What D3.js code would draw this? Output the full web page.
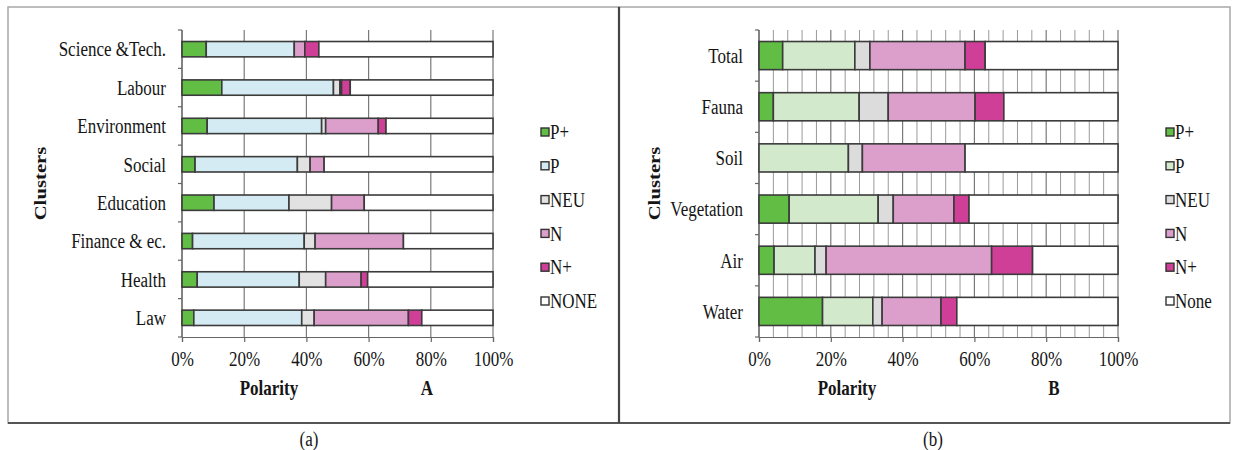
<!DOCTYPE html>
<html>
<head>
<meta charset="utf-8">
<script src="https://cdn.jsdelivr.net/npm/d3@7"></script>
<style>
  html, body { margin: 0; padding: 0; background: #ffffff; }
  svg { display: block; }
  text { font-family: "Liberation Serif", "Times New Roman", Times, serif; fill: #151515; }
</style>
</head>
<body>
<svg id="chart" width="1233" height="450"></svg>
<script>
// Polarity shares (%) per cluster, panel A
const clustersA = ["Science &Tech.", "Labour", "Environment", "Social", "Education", "Finance & ec.", "Health", "Law"];
const pPlusA = [7.8, 12.8, 8.1, 4.2, 10.3, 3.4, 4.9, 3.8];
const pA     = [28.3, 35.9, 36.8, 32.9, 24.1, 35.9, 32.8, 34.7];
const neuA   = [0.0, 2.1, 1.3, 4.1, 13.7, 3.5, 8.5, 4.0];
const nA     = [3.4, 0.5, 16.9, 4.5, 10.5, 28.4, 11.4, 30.3];
const nPlusA = [4.5, 2.8, 2.5, 0.0, 0.0, 0.0, 2.1, 4.3];
const noneA  = [56.0, 45.9, 34.4, 54.3, 41.4, 28.8, 40.3, 22.9];
const legendA = ["P+", "P", "NEU", "N", "N+", "NONE"];

// Polarity shares (%) per environmental cluster, panel B
const clustersB = ["Total", "Fauna", "Soil", "Vegetation", "Air", "Water"];
const pPlusB = [6.6, 4.0, 0.0, 8.4, 4.2, 17.7];
const pB     = [20.1, 23.9, 24.9, 24.8, 11.4, 14.0];
const neuB   = [4.2, 8.1, 3.9, 4.2, 3.1, 2.6];
const nB     = [26.5, 24.2, 28.6, 16.9, 46.1, 16.4];
const nPlusB = [5.6, 8.0, 0.0, 4.2, 11.4, 4.4];
const noneB  = [37.0, 31.8, 42.6, 41.5, 23.8, 44.9];
const legendB = ["P+", "P", "NEU", "N", "N+", "None"];

const xTicks = [0, 20, 40, 60, 80, 100];
const keys = ["pplus", "p", "neu", "n", "nplus", "none"];
const TALL = 1.22; // vertical stretch of the lettering

const svg = d3.select("#chart");

// stretch each text vertically about its own anchor point
function stretch(sel) {
  sel.each(function () {
    const t = d3.select(this);
    const x = +t.attr("x") || 0, y = +t.attr("y") || 0;
    t.attr("transform", `translate(${x},${y}) scale(1,${TALL}) translate(${-x},${-y})`);
  });
}

// panel frames
svg.append("rect").attr("x", 8).attr("y", 7).attr("width", 611).attr("height", 416)
  .attr("fill", "none").attr("stroke", "#a8a8a8").attr("stroke-width", 1.5);
svg.append("rect").attr("x", 619).attr("y", 7).attr("width", 611).attr("height", 416)
  .attr("fill", "none").attr("stroke", "#a8a8a8").attr("stroke-width", 1.5);
svg.append("line").attr("x1", 8).attr("x2", 1230).attr("y1", 423).attr("y2", 423)
  .attr("stroke", "#555").attr("stroke-width", 2);
svg.append("line").attr("x1", 619).attr("x2", 619).attr("y1", 7).attr("y2", 423)
  .attr("stroke", "#444").attr("stroke-width", 2.2);

function drawPanel(opt) {
  const g = svg.append("g");
  const rows = opt.categories.map((c, i) => ({
    cat: c,
    pplus: opt.series[0][i], p: opt.series[1][i], neu: opt.series[2][i],
    n: opt.series[3][i], nplus: opt.series[4][i], none: opt.series[5][i]
  }));

  const x = d3.scaleLinear().domain([0, 100]).range([opt.x0, opt.x1]);
  const y = d3.scaleBand().domain(opt.categories).range([opt.y0, opt.y1])
    .paddingInner(opt.pad).paddingOuter(opt.pad / 2);

  // minor gridlines
  if (opt.minor) {
    g.append("g").selectAll("line").data(d3.range(0, 101, 4).filter(v => v % 20 !== 0))
      .join("line")
      .attr("x1", d => x(d)).attr("x2", d => x(d))
      .attr("y1", opt.y0).attr("y2", opt.y1)
      .attr("stroke", "#9a9a9a").attr("stroke-width", 1);
  }
  // major gridlines
  g.append("g").selectAll("line").data(xTicks)
    .join("line")
    .attr("x1", d => x(d)).attr("x2", d => x(d))
    .attr("y1", opt.y0).attr("y2", opt.y1)
    .attr("stroke", "#7a7a7a").attr("stroke-width", 1.2);

  // y axis line with ticks at band boundaries
  g.append("line").attr("x1", opt.x0).attr("x2", opt.x0)
    .attr("y1", opt.y0).attr("y2", opt.y1).attr("stroke", "#666").attr("stroke-width", 1.2);
  const step = (opt.y1 - opt.y0) / opt.categories.length;
  g.append("g").selectAll("line").data(d3.range(opt.categories.length + 1))
    .join("line")
    .attr("x1", opt.x0 - 4).attr("x2", opt.x0)
    .attr("y1", d => opt.y0 + d * step).attr("y2", d => opt.y0 + d * step)
    .attr("stroke", "#666").attr("stroke-width", 1.2);

  // x axis
  const xAxis = d3.axisBottom(x).tickValues(xTicks).tickFormat(d => d + "%")
    .tickSize(5).tickPadding(9);
  const ax = g.append("g").attr("transform", `translate(0,${opt.y1})`).call(xAxis);
  ax.attr("font-family", null);
  ax.select(".domain").attr("stroke", "#666").attr("stroke-width", 1.2);
  ax.selectAll(".tick line").attr("stroke", "#666").attr("stroke-width", 1.2);
  ax.selectAll(".tick text").attr("font-size", 17).attr("fill", "#151515").call(stretch);

  // stacked bars
  const stack = d3.stack().keys(keys)(rows);
  g.append("g").selectAll("g").data(stack).join("g")
    .attr("fill", d => opt.colors[keys.indexOf(d.key)])
    .selectAll("rect").data(d => d.filter(s => s[1] - s[0] > 0)).join("rect")
    .attr("x", d => x(d[0]))
    .attr("y", d => y(d.data.cat))
    .attr("width", d => x(d[1]) - x(d[0]))
    .attr("height", y.bandwidth())
    .attr("stroke", "#3b3b3b").attr("stroke-width", 1.6);

  // category labels
  g.append("g").selectAll("text").data(opt.categories).join("text")
    .attr("x", opt.x0 - 16)
    .attr("y", d => y(d) + y.bandwidth() / 2)
    .attr("dy", "0.35em")
    .attr("text-anchor", "end")
    .attr("font-size", 17)
    .text(d => d)
    .call(stretch);

  // axis titles
  g.append("text")
    .attr("transform", `translate(${opt.clusterX},${(opt.y0 + opt.y1) / 2}) rotate(-90) scale(${TALL},1)`)
    .attr("text-anchor", "middle").attr("dy", "0.35em")
    .attr("font-size", 17).attr("font-weight", "bold").text("Clusters");
  g.append("text").attr("x", opt.polX).attr("y", 388).attr("dy", "0.35em")
    .attr("text-anchor", "middle").attr("font-size", 17).attr("font-weight", "bold").text("Polarity")
    .call(stretch);
  g.append("text").attr("x", opt.tagX).attr("y", 388).attr("dy", "0.35em")
    .attr("text-anchor", "middle").attr("font-size", 17).attr("font-weight", "bold").text(opt.tag)
    .call(stretch);

  // legend
  const lg = g.append("g").selectAll("g").data(opt.legend).join("g")
    .attr("transform", (d, i) => `translate(${opt.legX},${132 + i * 33.8})`);
  lg.append("rect").attr("x", 0).attr("y", -4).attr("width", 8).attr("height", 8)
    .attr("fill", (d, i) => opt.colors[i]).attr("stroke", "#333").attr("stroke-width", 1.4);
  lg.append("text").attr("x", 9).attr("y", 0).attr("dy", "0.35em").attr("font-size", 17).text(d => d)
    .call(stretch);

  // caption
  svg.append("text").attr("x", opt.capX).attr("y", 439).attr("dy", "0.35em")
    .attr("text-anchor", "middle").attr("font-size", 17).text(opt.caption)
    .call(stretch);
}

drawPanel({
  categories: clustersA,
  series: [pPlusA, pA, neuA, nA, nPlusA, noneA],
  colors: ["#62bd45", "#d5ebf3", "#e2e2e2", "#dc9fcc", "#cf3f98", "#ffffff"],
  legend: legendA,
  x0: 182, x1: 493, y0: 30, y1: 337, pad: 0.6,
  minor: false,
  clusterX: 40, polX: 269, tagX: 427, tag: "A",
  legX: 541, capX: 309, caption: "(a)"
});

drawPanel({
  categories: clustersB,
  series: [pPlusB, pB, neuB, nB, nPlusB, noneB],
  colors: ["#62bd45", "#d3e9cb", "#dcdcdc", "#dc9fcc", "#cf3f98", "#ffffff"],
  legend: legendB,
  x0: 759, x1: 1118, y0: 30, y1: 337, pad: 0.45,
  minor: true,
  clusterX: 654, polX: 847, tagX: 1054, tag: "B",
  legX: 1166, capX: 933, caption: "(b)"
});
</script>
</body>
</html>
